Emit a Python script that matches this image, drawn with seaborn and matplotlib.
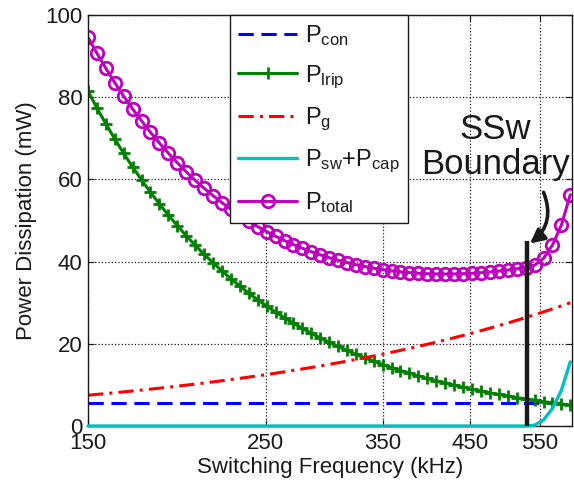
import numpy as np
import matplotlib
matplotlib.use('Agg')
import matplotlib.pyplot as plt
import seaborn as sns
from matplotlib.ticker import FixedLocator, FixedFormatter, NullLocator

# ── Data ──────────────────────────────────────────────────────
freq_khz = [150.0, 153.9, 157.9, 162.0, 166.2, 170.5, 175.0, 179.5, 184.2, 189.0,
            193.9, 198.9, 204.1, 209.4, 214.9, 220.5, 226.2, 232.1, 238.1, 244.3,
            250.7, 257.2, 263.9, 270.7, 277.8, 285.0, 292.4, 300.0, 307.8, 315.8,
            324.0, 332.4, 341.0, 349.9, 359.0, 368.3, 377.9, 387.7, 397.8, 408.1,
            418.7, 429.6, 440.7, 452.3, 464.1, 476.2, 488.6, 501.4, 514.4, 527.8,
            541.6, 555.7, 570.1, 584.9, 600.0]

p_con = [5.6] * len(freq_khz)

p_lrip = [81.5, 77.42, 73.55, 69.86, 66.37, 63.05, 59.89, 56.89, 54.05, 51.34,
          48.77, 46.33, 44.01, 41.81, 39.72, 37.73, 35.84, 34.05, 32.34, 30.72,
          29.19, 27.73, 26.34, 25.02, 23.77, 22.58, 21.45, 20.38, 19.36, 18.39,
          17.47, 16.59, 15.76, 14.97, 14.22, 13.51, 12.84, 12.19, 11.58, 11.00,
          10.45, 9.93, 9.43, 8.96, 8.51, 8.08, 7.68, 7.30, 6.93, 6.59,
          6.26, 5.94, 5.65, 5.36, 5.09]

p_g = [7.50, 7.70, 7.90, 8.10, 8.31, 8.53, 8.75, 8.98, 9.21, 9.45,
       9.69, 9.95, 10.20, 10.47, 10.74, 11.02, 11.31, 11.60, 11.91, 12.21,
       12.53, 12.86, 13.19, 13.54, 13.89, 14.25, 14.62, 15.00, 15.39, 15.79,
       16.20, 16.62, 17.05, 17.49, 17.95, 18.42, 18.89, 19.39, 19.89, 20.41,
       20.94, 21.48, 22.04, 22.61, 23.20, 23.81, 24.43, 25.07, 25.72, 26.39,
       27.08, 27.78, 28.50, 29.24, 30.00]

p_sw_cap = [0.0] * 50 + [0.2, 1.5, 4.3, 8.7, 15.6]

p_total = [94.60, 90.72, 87.05, 83.56, 80.28, 77.18, 74.24, 71.47, 68.86, 66.39,
           64.06, 61.88, 59.81, 57.88, 56.06, 54.35, 52.75, 51.25, 49.85, 48.53,
           47.32, 46.19, 45.13, 44.16, 43.26, 42.43, 41.67, 40.98, 40.35, 39.78,
           39.27, 38.81, 38.41, 38.06, 37.77, 37.53, 37.33, 37.18, 37.07, 37.01,
           36.99, 37.01, 37.07, 37.17, 37.31, 37.49, 37.71, 37.97, 38.25, 38.58,
           39.14, 40.82, 44.05, 48.90, 56.29]

x_ticks = [150, 250, 350, 450, 550]
y_ticks = [0, 20, 40, 60, 80, 100]
ssw_boundary = 530      # kHz
boundary_top = 45       # mW

# ── Style ─────────────────────────────────────────────────────
sns.set_theme(style='ticks')
plt.rcParams['font.family'] = ['Liberation Sans', 'DejaVu Sans']
plt.rcParams['mathtext.fontset'] = 'custom'
plt.rcParams['mathtext.rm'] = 'Liberation Sans'
plt.rcParams['mathtext.it'] = 'Liberation Sans:italic'
for key in ['text.color', 'axes.labelcolor', 'xtick.color', 'ytick.color']:
    plt.rcParams[key] = 'k'

fig = plt.figure(figsize=(5.74, 4.88), dpi=100)
ax = fig.add_axes([0.1533, 0.127, 0.8432, 0.842])

sns.lineplot(x=freq_khz, y=p_con, ax=ax, color='#0000FF', lw=2.2,
             linestyle=(0, (5, 2.5)), label=r'P$_{\rm con}$')
sns.lineplot(x=freq_khz, y=p_lrip, ax=ax, color='#008000', lw=2.2,
             marker='+', markersize=8, markeredgewidth=2,
             markeredgecolor='#008000', label=r'P$_{\rm lrip}$')
sns.lineplot(x=freq_khz, y=p_g, ax=ax, color='#FF0000', lw=2.2,
             linestyle=(0, (5, 2, 1, 2)), label=r'P$_{\rm g}$')
sns.lineplot(x=freq_khz, y=p_sw_cap, ax=ax, color='#00BFBF', lw=2.4,
             clip_on=False, zorder=3, label=r'P$_{\rm sw}$+P$_{\rm cap}$')
sns.lineplot(x=freq_khz, y=p_total, ax=ax, color='#BF00BF', lw=2.2,
             marker='o', markersize=9, markeredgewidth=2,
             markerfacecolor='none', markeredgecolor='#BF00BF',
             label=r'P$_{\rm total}$')

# SSw boundary marker
ax.plot([ssw_boundary, ssw_boundary], [0, boundary_top], color='k', lw=3.2,
        solid_capstyle='butt', zorder=5)
ax.text(484, 68, 'SSw\nBoundary', fontsize=25, ha='center', va='center',
        linespacing=1.08)
ax.annotate('', xy=(531, 44), xytext=(554, 57.5),
            arrowprops=dict(arrowstyle='-|>,head_length=0.7,head_width=0.35',
                            lw=2.6, color='k',
                            connectionstyle='arc3,rad=-0.4'))

# ── Axes ──────────────────────────────────────────────────────
ax.set_xscale('log')
ax.set_xlim(150, 603)
ax.set_ylim(0, 100)
ax.xaxis.set_major_locator(FixedLocator(x_ticks))
ax.xaxis.set_major_formatter(FixedFormatter([str(t) for t in x_ticks]))
ax.xaxis.set_minor_locator(NullLocator())
ax.set_yticks(y_ticks)
ax.tick_params(axis='both', direction='in', length=4, width=0.8,
               labelsize=16, top=True, right=True, colors='k')
ax.tick_params(axis='x', pad=5)
ax.tick_params(axis='y', pad=4)
ax.grid(True, color='k', linestyle=':', linewidth=0.9)
for s in ax.spines.values():
    s.set_color('k')
    s.set_linewidth(1.0)

ax.set_xlabel('Switching Frequency (kHz)', fontsize=16, labelpad=2)
ax.set_ylabel('Power Dissipation (mW)', fontsize=16, labelpad=6)

leg = ax.legend(loc='upper left', bbox_to_anchor=(0.293, 1.0),
                borderaxespad=0, fontsize=17, handlelength=2.5,
                labelspacing=0.63, handletextpad=0.35, borderpad=0.35,
                fancybox=False, framealpha=1, edgecolor='k')
leg.get_frame().set_linewidth(1.0)

fig.savefig('out.png', dpi=100)
